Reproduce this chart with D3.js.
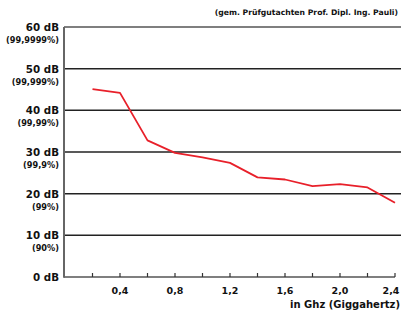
<!DOCTYPE html>
<html><head><meta charset="utf-8">
<script src="https://cdn.jsdelivr.net/npm/d3@7"></script>
<style>body{margin:0;background:#fff}svg{display:block}text{font-family:"DejaVu Sans",sans-serif;font-weight:bold;fill:#111}</style>
</head><body><svg id="c" width="401" height="313"></svg>
<script>
const freqs = [0.2,0.4,0.6,0.8,1.0,1.2,1.4,1.6,1.8,2.0,2.2,2.4];
const dampingDb = [45.1,44.2,32.8,29.8,28.7,27.4,23.9,23.4,21.8,22.3,21.5,17.8];
const yTicks = [0,10,20,30,40,50,60];
const yTickLabels = ["0 dB","10 dB","20 dB","30 dB","40 dB","50 dB","60 dB"];
const yPctLabels = ["","(90%)","(99%)","(99,9%)","(99,99%)","(99,999%)","(99,9999%)"];
const xTickValues = [0.4,0.8,1.2,1.6,2.0,2.4];
const xMinorTicks = [0.2,0.4,0.6,0.8,1.0,1.2,1.4,1.6,1.8,2.0,2.2,2.4];
const headerText = "(gem. Prüfgutachten Prof. Dipl. Ing. Pauli)";
const xTitle = "in Ghz (Giggahertz)";

const svg = d3.select("#c");
const x = d3.scaleLinear().domain([0,2.4]).range([65,395]);
const y = d3.scaleLinear().domain([0,60]).range([277,27]);

// gridlines
yTicks.forEach((t,i)=>{
  if(t===0) return;
  svg.append("line").attr("x1",64).attr("x2",401).attr("y1",y(t)).attr("y2",y(t))
    .attr("stroke", t===60 ? "#555" : "#222").attr("stroke-width",1.5);
});
// bottom axis
svg.append("line").attr("x1",64).attr("x2",395).attr("y1",y(0)).attr("y2",y(0))
  .attr("stroke","#555").attr("stroke-width",1.5);
// left axis
svg.append("line").attr("x1",64).attr("x2",64).attr("y1",y(60)).attr("y2",y(0)+0.75)
  .attr("stroke","#666").attr("stroke-width",2);
// minor ticks
svg.selectAll(".mt").data(xMinorTicks).enter().append("line")
  .attr("x1",d=>x(d)).attr("x2",d=>x(d)).attr("y1",y(0)).attr("y2",y(0)-4)
  .attr("stroke","#333").attr("stroke-width",1.2);

// y labels
yTicks.forEach((t,i)=>{
  svg.append("text").attr("x",59).attr("y",y(t)+4).attr("text-anchor","end")
    .attr("font-size",10.3).text(yTickLabels[i]);
  if(yPctLabels[i]) svg.append("text").attr("x",59).attr("y",y(t)+16).attr("text-anchor","end")
    .attr("font-size",8.2).text(yPctLabels[i]);
});
// x labels
svg.selectAll(".xl").data(xTickValues).enter().append("text")
  .attr("x",d=>Math.min(x(d),391)).attr("y",294).attr("text-anchor","middle").attr("font-size",9.5)
  .text(d=>d3.format(".1f")(d).replace(".",","));
svg.append("text").attr("x",400).attr("y",308).attr("text-anchor","end").attr("font-size",10).text(xTitle);
svg.append("text").attr("x",398).attr("y",15).attr("text-anchor","end").attr("font-size",7.7).text(headerText);

// data line
const line = d3.line().x((d,i)=>x(freqs[i])).y(d=>y(d));
svg.append("path").datum(dampingDb).attr("d",line).attr("fill","none")
  .attr("stroke","#e8202a").attr("stroke-width",1.8).attr("stroke-linejoin","round");
</script></body></html>
